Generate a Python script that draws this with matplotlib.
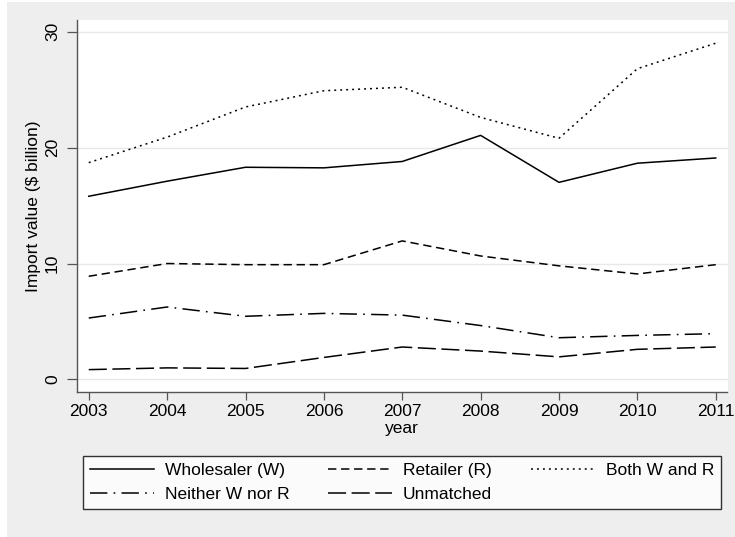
import numpy as np
import matplotlib.pyplot as plt
from matplotlib.patches import Rectangle

plt.rcParams['font.family'] = ['Liberation Sans', 'DejaVu Sans']
plt.rcParams['font.size'] = 12.5
plt.rcParams['lines.scale_dashes'] = False

years = [2003, 2004, 2005, 2006, 2007, 2008, 2009, 2010, 2011]
wholesaler = [15.8, 17.1, 18.3, 18.25, 18.8, 21.05, 17.0, 18.65, 19.1]
retailer = [8.9, 10.0, 9.9, 9.9, 11.95, 10.65, 9.8, 9.1, 9.9]
both_w_r = [18.7, 20.9, 23.5, 24.9, 25.2, 22.6, 20.8, 26.8, 29.0]
neither = [5.3, 6.25, 5.45, 5.7, 5.55, 4.65, 3.6, 3.8, 3.95]
unmatched = [0.85, 1.0, 0.95, 1.9, 2.8, 2.45, 1.95, 2.6, 2.8]

series = [
    ('Wholesaler (W)', wholesaler, '-'),
    ('Retailer (R)', retailer, (0, (6.0, 3.4))),
    ('Both W and R', both_w_r, (0, (1.4, 2.9))),
    ('Neither W nor R', neither, (0, (12.5, 4.5, 1.2, 4.5))),
    ('Unmatched', unmatched, (0, (13.0, 4.0))),
]

fig = plt.figure(figsize=(7.35, 5.37), dpi=100, facecolor='white')
# grey outer panel behind everything
fig.patches.append(Rectangle((7 / 735, 0), 1, 1 - 2 / 537, transform=fig.transFigure,
                             facecolor='#eeeeee', edgecolor='none', zorder=-10))

ax = fig.add_axes([77 / 735, 1 - 392 / 537, 650.5 / 735, 372 / 537])
ax.set_facecolor('white')

handles = {}
for label, vals, ls in series:
    h, = ax.plot(years, vals, color='black', linestyle=ls, linewidth=1.1, label=label)
    handles[label] = h

ax.set_xlim(2002.85, 2011.15)
ax.set_ylim(-1.08, 31.0)
ax.set_xticks(years)
ax.set_yticks([0, 10, 20, 30])
ax.yaxis.grid(True, color='#e8e8e8', linewidth=1.0)
ax.set_axisbelow(True)

for side in ('top', 'right'):
    ax.spines[side].set_visible(False)
for side in ('left', 'bottom'):
    ax.spines[side].set_color('#555555')
    ax.spines[side].set_linewidth(1.0)

ax.tick_params(axis='y', length=7.2, width=0.9, color='#555555', pad=5)
ax.tick_params(axis='x', length=5.8, width=0.9, color='#555555', pad=3)
for t in ax.get_yticklabels():
    t.set_rotation(90)
    t.set_va('center')

ax.set_ylabel('Import value ($ billion)', labelpad=3)
ax.set_xlabel('year', labelpad=1)

# legend fills column by column, so order entries to read row by row
order = ['Wholesaler (W)', 'Neither W nor R', 'Retailer (R)', 'Unmatched', 'Both W and R']
leg = fig.legend(handles=[handles[k] for k in order], ncol=3, loc='center',
                 bbox_to_anchor=(83 / 735, 1 - 513 / 537, 638 / 735, 61 / 537),
                 mode='expand', borderaxespad=0, fancybox=False,
                 handlelength=3.7, handletextpad=0.6, columnspacing=1.4,
                 labelspacing=0.5, borderpad=0.4)
leg.get_frame().set_edgecolor('black')
leg.get_frame().set_linewidth(1.0)
leg.get_frame().set_facecolor('white')

fig.savefig('out.png', dpi=100)
